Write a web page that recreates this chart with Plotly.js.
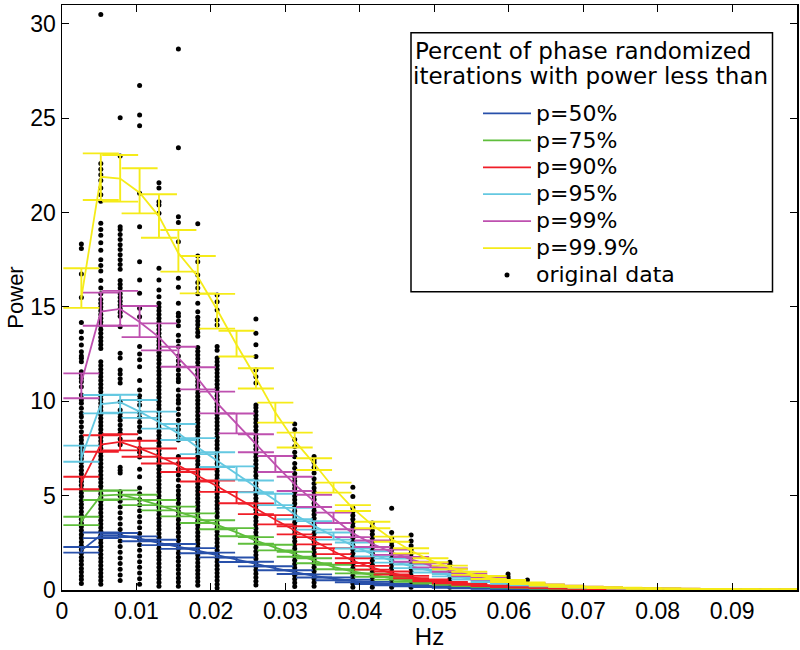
<!DOCTYPE html>
<html><head><meta charset="utf-8">
<script src="https://cdn.plot.ly/plotly-3.0.1.min.js"></script>
<style>html,body{margin:0;padding:0;background:#fff}#chart{width:800px;height:650px}</style>
</head><body><div id="chart"></div>
<script>
// frequency bins (Hz)
const freqs = [0.0026,0.00521,0.00781,0.01042,0.01302,0.01563,0.01823,0.02083,0.02344,0.02604,
 0.02865,0.03125,0.03385,0.03646,0.03906,0.04167,0.04427,0.04688,0.04948,0.05208,
 0.05469,0.05729,0.0599,0.0625,0.0651,0.06771,0.07031,0.07292,0.07552,0.07813,
 0.08073,0.08333,0.08594,0.08854,0.09115,0.09375,0.09635,0.09896];

const seriesNames = ['p=50%','p=75%','p=90%','p=95%','p=99%','p=99.9%'];
const seriesColors = ['rgb(40,80,170)','rgb(95,190,60)','rgb(240,30,40)','rgb(100,200,225)','rgb(190,80,175)','rgb(245,235,25)'];

const p50Mid = [2.1,2.9,2.9,2.72,2.5,2.3,2.08,1.85,1.6,1.38,1.15,0.95,0.75,0.6,0.48,0.38,0.3,0.23,0.18,0.14,0.11,0.085,0.065,0.05,0.04,0.032,0.026,0.021,0.017,0.014,0.012,0.01,0.009,0.008,0.007,0.006,0.005,0.005];
const p50Lo  = [1.98,2.75,2.8,2.58,2.38,2.18,1.95,1.73,1.48,1.25,1.05,0.85,0.66,0.52,0.41,0.32,0.25,0.19,0.15,0.115,0.09,0.07,0.053,0.041,0.032,0.026,0.021,0.017,0.014,0.011,0.009,0.008,0.007,0.006,0.005,0.005,0.004,0.004];
const p50Hi  = [2.28,3.05,3.02,2.84,2.66,2.44,2.22,1.98,1.72,1.5,1.26,1.05,0.83,0.67,0.54,0.43,0.34,0.27,0.21,0.165,0.13,0.1,0.077,0.06,0.048,0.038,0.031,0.025,0.02,0.017,0.014,0.012,0.011,0.01,0.009,0.008,0.007,0.006];

const p75Mid = [3.65,5.0,5.05,4.8,4.5,4.15,3.8,3.45,3.05,2.62,2.25,1.9,1.55,1.22,0.98,0.78,0.62,0.49,0.39,0.31,0.24,0.19,0.15,0.12,0.095,0.075,0.06,0.048,0.039,0.032,0.027,0.023,0.02,0.017,0.015,0.013,0.011,0.01];
const p75Lo  = [3.44,4.77,4.8,4.5,4.22,3.9,3.55,3.22,2.85,2.45,2.1,1.76,1.42,1.1,0.88,0.7,0.55,0.43,0.34,0.27,0.21,0.165,0.13,0.1,0.08,0.064,0.051,0.041,0.033,0.027,0.023,0.019,0.017,0.014,0.012,0.011,0.009,0.008];
const p75Hi  = [3.88,5.26,5.28,5.05,4.77,4.42,4.06,3.7,3.28,2.8,2.4,2.03,1.68,1.34,1.08,0.87,0.69,0.55,0.44,0.35,0.28,0.22,0.175,0.14,0.11,0.088,0.07,0.056,0.046,0.038,0.032,0.027,0.024,0.021,0.018,0.016,0.014,0.012];

const p90Mid = [5.7,7.7,7.85,7.5,7.1,6.6,6.05,5.5,4.9,4.3,3.72,3.15,2.6,2.05,1.55,1.18,0.9,0.68,0.51,0.39,0.3,0.23,0.18,0.14,0.11,0.085,0.068,0.054,0.044,0.036,0.03,0.025,0.021,0.018,0.016,0.014,0.012,0.011];
const p90Lo  = [5.34,7.33,7.4,7.06,6.7,6.25,5.75,5.2,4.6,4.02,3.48,2.95,2.42,1.9,1.43,1.08,0.82,0.62,0.46,0.35,0.27,0.205,0.16,0.125,0.097,0.075,0.06,0.047,0.038,0.031,0.026,0.022,0.018,0.016,0.014,0.012,0.01,0.009];
const p90Hi  = [6.0,8.2,8.25,7.91,7.5,6.98,6.4,5.8,5.2,4.58,3.97,3.38,2.8,2.22,1.68,1.28,0.98,0.75,0.56,0.43,0.33,0.255,0.2,0.155,0.123,0.095,0.076,0.061,0.05,0.041,0.034,0.028,0.024,0.021,0.018,0.016,0.014,0.012];

const p95Mid = [7.0,9.85,9.95,9.45,8.9,8.3,7.55,6.85,6.15,5.45,4.75,4.0,3.4,2.85,2.35,1.9,1.55,1.25,1.0,0.78,0.6,0.46,0.36,0.28,0.22,0.17,0.135,0.107,0.086,0.07,0.058,0.048,0.04,0.034,0.029,0.025,0.022,0.019];
const p95Lo  = [6.8,9.36,9.4,9.12,8.55,7.95,7.2,6.52,5.85,5.18,4.5,3.75,3.2,2.67,2.2,1.78,1.45,1.16,0.93,0.72,0.55,0.42,0.33,0.255,0.2,0.155,0.122,0.097,0.078,0.063,0.052,0.043,0.036,0.031,0.026,0.022,0.019,0.017];
const p95Hi  = [7.65,10.33,10.35,10.07,9.45,8.8,8.05,7.3,6.55,5.8,5.1,4.35,3.65,3.05,2.52,2.05,1.67,1.35,1.08,0.85,0.66,0.51,0.4,0.31,0.245,0.19,0.15,0.119,0.096,0.078,0.065,0.054,0.045,0.038,0.032,0.028,0.024,0.021];

const p99Mid = [11.0,14.75,14.9,14.2,13.4,12.3,11.2,9.9,8.8,7.75,6.65,5.6,4.7,3.8,3.0,2.45,2.0,1.62,1.3,1.05,0.8,0.6,0.46,0.35,0.27,0.21,0.165,0.13,0.105,0.085,0.07,0.058,0.048,0.04,0.034,0.029,0.025,0.022];
const p99Lo  = [10.16,14.0,14.0,13.4,12.7,11.83,10.63,9.36,8.3,7.3,6.25,5.25,4.4,3.55,2.8,2.28,1.86,1.5,1.2,0.97,0.74,0.55,0.42,0.32,0.245,0.19,0.15,0.118,0.095,0.077,0.063,0.052,0.043,0.036,0.031,0.026,0.022,0.02];
const p99Hi  = [11.48,15.76,15.85,15.05,14.13,12.89,11.8,10.51,9.35,8.25,7.1,6.0,5.05,4.1,3.22,2.62,2.14,1.75,1.41,1.14,0.87,0.65,0.5,0.38,0.295,0.23,0.18,0.142,0.115,0.093,0.077,0.064,0.053,0.044,0.037,0.032,0.027,0.024];

const p999Mid = [15.5,21.9,21.8,21.05,19.8,17.85,16.6,14.85,13.0,11.25,9.4,7.9,6.7,5.42,4.33,3.44,2.7,2.08,1.57,1.2,0.88,0.66,0.48,0.36,0.27,0.2,0.155,0.125,0.1,0.082,0.068,0.058,0.05,0.044,0.039,0.035,0.031,0.028];
const p999Lo  = [14.95,20.67,20.58,19.96,18.67,16.87,15.72,13.85,12.37,10.68,8.87,7.55,6.36,5.16,4.19,3.27,2.56,1.94,1.47,1.1,0.8,0.58,0.42,0.31,0.23,0.17,0.13,0.105,0.085,0.07,0.058,0.049,0.042,0.037,0.033,0.029,0.026,0.023];
const p999Hi  = [17.05,23.14,23.05,22.35,20.97,19.08,17.7,15.69,13.74,11.75,9.93,8.34,6.98,5.69,4.5,3.62,2.83,2.21,1.68,1.29,0.97,0.74,0.53,0.4,0.3,0.23,0.18,0.145,0.118,0.097,0.081,0.069,0.06,0.052,0.046,0.041,0.037,0.033];

// original data: frequency of each dot column, and the power values in each column
const dotFreqs = [0.0026,0.00521,0.00781,0.01042,0.01302,0.01563,0.01823,0.02083,0.02604,0.03125,0.03385,0.03906,0.04167,0.04427,0.04688,0.05208,0.0599,0.0625];
const dotsK1 = [0.35,0.55,0.74,0.95,1.14,1.35,1.55,1.74,1.95,2.15,2.34,2.55,2.75,2.94,3.15,3.35,3.54,3.75,3.95,4.14,4.35,4.55,4.74,4.95,5.15,5.34,5.55,5.75,5.94,6.15,6.35,6.54,6.75,6.95,7.14,7.35,7.55,7.74,7.95,8.12,8.39,8.65,8.92,9.18,9.36,9.63,9.89,10.07,10.33,10.77,11.04,11.22,11.39,11.57,12.1,12.28,12.4,12.63,12.98,13.34,13.69,14.17,15.5,16.75,18.1,18.33];
const dotsK2 = [0.3,0.5,0.7,0.9,1.1,1.3,1.5,1.7,1.9,2.1,2.3,2.5,2.7,2.9,3.1,3.3,3.5,3.7,3.9,4.1,4.3,4.5,4.7,4.9,5.1,5.3,5.5,5.7,5.9,6.1,6.3,6.5,6.7,6.9,7.1,7.3,7.5,7.7,7.9,8.1,8.3,8.5,8.7,8.9,9.1,9.3,9.5,9.7,9.9,10.1,10.3,10.5,10.7,10.9,11.1,11.3,11.5,11.7,11.9,12.1,12.8,13.0,13.2,13.4,13.6,13.8,14.0,14.2,14.4,14.6,14.8,15.0,15.2,15.4,15.7,16.0,16.4,16.9,17.2,17.5,18.0,18.4,18.8,19.1,19.43,20.6,20.95,21.3,21.7,22.0,22.3,22.6,30.5];
const dotsK3 = [0.5,0.8,1.1,1.4,1.7,2.0,2.3,2.6,2.9,3.2,3.5,3.8,4.1,4.4,4.7,5.0,5.2,6.2,6.35,6.5,7.7,8.0,8.3,8.5,8.75,9.0,9.17,9.35,9.54,9.98,10.97,11.2,11.45,11.66,12.3,12.55,13.95,14.5,14.7,14.9,15.1,15.3,15.5,15.7,16.0,16.2,16.4,17.0,17.25,17.5,17.77,18.04,18.3,18.57,18.84,19.1,19.25,23.0,25.03];
const dotsK4 = [0.3,0.6,0.9,1.2,1.5,1.8,2.1,2.4,2.7,3.0,3.3,3.6,3.9,4.2,4.5,4.8,5.1,5.4,6.0,6.4,7.05,7.3,7.5,8.0,8.4,8.65,8.9,9.15,9.4,9.8,10.07,10.3,10.6,11.1,11.83,12.2,12.5,12.9,14.48,14.93,15.72,16.43,17.4,19.25,21.02,24.6,25.17,26.73];
const dotsK5 = [0.2,0.4,0.6,0.8,1.0,1.2,1.4,1.6,1.8,2.0,2.2,2.4,2.6,2.8,3.0,3.2,3.4,3.6,3.8,4.0,4.2,4.4,4.6,4.8,5.0,5.2,5.4,5.6,5.8,6.0,6.2,6.4,6.6,6.8,7.0,7.2,7.4,7.6,7.8,8.0,8.2,8.4,8.6,8.8,9.0,9.2,9.4,9.6,9.8,10.0,10.2,10.4,10.6,10.8,11.0,11.2,11.4,11.6,11.8,12.0,12.2,12.4,12.6,12.8,13.0,13.2,13.4,13.6,13.8,14.0,14.2,14.4,14.6,14.8,15.0,15.2,15.54,15.9,16.43,17.05,19.96,20.4,20.58,21.3,21.58];
const dotsK6 = [0.2,0.42,0.64,0.86,1.08,1.3,1.52,1.74,1.96,2.18,2.4,2.62,2.84,3.06,3.28,3.5,3.72,3.94,4.16,4.38,4.6,4.82,5.04,5.26,5.5,5.83,6.1,6.4,6.7,7.07,7.95,8.2,8.5,8.75,9.0,9.3,9.6,9.9,10.07,10.3,10.6,11.04,11.2,11.4,11.66,11.9,12.15,12.4,12.9,13.2,13.5,14.0,14.25,14.5,14.66,15.19,16.04,16.52,18.46,19.47,19.78,23.44,28.67];
const dotsK7 = [0.25,0.45,0.65,0.85,1.05,1.25,1.45,1.65,1.85,2.05,2.25,2.45,2.65,2.85,3.05,3.25,3.45,3.65,3.85,4.05,4.25,4.45,4.65,4.85,5.05,5.25,5.45,5.65,5.85,6.05,6.25,6.45,6.65,6.85,7.05,7.25,7.45,7.65,7.85,8.05,8.25,8.45,8.65,8.85,9.05,9.25,9.45,9.65,9.85,10.05,10.25,10.45,10.65,10.85,11.05,11.25,11.45,11.65,11.85,12.05,12.25,12.45,12.65,12.85,13.45,13.65,13.85,14.05,14.25,14.45,14.75,15.19,15.7,16.0,16.3,16.69,17.4,17.7,19.41];
const dotsK8 = [0.1,0.3,0.5,0.7,0.9,1.1,1.3,1.5,1.7,1.9,2.1,2.3,2.5,2.7,2.9,3.1,3.3,3.5,3.7,3.9,4.1,4.3,4.5,4.7,4.9,5.1,5.3,5.5,5.7,5.9,6.1,6.3,6.5,6.7,6.9,7.1,7.3,7.5,7.7,7.9,8.1,8.3,8.5,8.7,8.9,9.1,9.3,9.5,9.7,9.9,10.1,10.3,10.5,10.7,10.9,11.1,11.3,11.5,11.7,11.9,12.1,12.3,12.7,12.9,14.04,14.31,14.84,15.28,15.63];
const dotsK10 = [0.26,0.46,0.66,0.86,1.06,1.26,1.46,1.66,1.86,2.06,2.26,2.46,2.66,2.86,3.06,3.26,3.46,3.66,3.86,4.06,4.26,4.46,4.66,4.86,5.06,5.26,5.46,5.66,5.86,6.06,6.26,6.46,6.66,6.86,7.06,7.26,7.46,7.66,7.86,8.06,8.26,8.46,8.66,8.86,9.06,9.26,9.46,9.66,9.8,10.97,11.3,11.66,12.37,13.0,13.6,14.36];
const dotsK12 = [0.18,0.38,0.58,0.78,0.98,1.18,1.38,1.58,1.78,1.98,2.18,2.38,2.58,2.78,2.98,3.18,3.38,3.58,3.78,3.98,4.18,4.38,4.58,4.78,4.98,5.18,5.38,5.58,5.78,5.98,6.18,6.45,6.7,7.06,7.3,7.6,7.98,8.5,8.8];
const dotsK13 = [0.2,0.4,0.6,0.8,1.0,1.2,1.4,1.6,1.8,2.0,2.2,2.4,2.6,2.8,3.0,3.2,3.4,3.6,3.8,4.0,4.2,4.4,4.6,4.8,5.0,5.2,5.4,5.65,5.9,6.2,6.5,6.75,6.9,7.07];
const dotsK15 = [0.15,0.35,0.55,0.75,0.95,1.15,1.35,1.55,1.75,1.95,2.15,2.35,2.55,2.75,2.95,3.15,3.35,3.55,3.75,3.95,4.15,4.34,4.95,5.44];
const dotsK16 = [0.15,0.35,0.55,0.75,0.95,1.15,1.35,1.55,1.75,1.95,2.15,2.35,2.55,2.75,2.95,3.15,3.35,3.55];
const dotsK17 = [0.15,0.35,0.55,0.75,0.95,1.15,1.35,1.55,1.75,1.95,2.15,2.35,2.55,2.75,3.05,4.33];
const dotsK18 = [0.15,0.35,0.55,0.75,0.95,1.15,1.35,1.55,1.75,1.95,2.15,2.35,2.6,2.91];
const dotsK20 = [0.15,0.35,0.55,0.75,0.95,1.15,1.35,1.47];
const dotsK23 = [0.2,0.4,0.6,0.7,0.85];
const dotsK24 = [0.2,0.35,0.53];
const dotColumns = [dotsK1,dotsK2,dotsK3,dotsK4,dotsK5,dotsK6,dotsK7,dotsK8,dotsK10,dotsK12,dotsK13,dotsK15,dotsK16,dotsK17,dotsK18,dotsK20,dotsK23,dotsK24];

const xTickVals = [0,0.01,0.02,0.03,0.04,0.05,0.06,0.07,0.08,0.09];
const xTickText = ['0','0.01','0.02','0.03','0.04','0.05','0.06','0.07','0.08','0.09'];
const yTickVals = [0,5,10,15,20,25,30];

const FONT = '"DejaVu Sans", sans-serif';
const AXFONT = '"Liberation Sans", Arial, sans-serif';
const mids = [p50Mid,p75Mid,p90Mid,p95Mid,p99Mid,p999Mid];
const los = [p50Lo,p75Lo,p90Lo,p95Lo,p99Lo,p999Lo];
const his = [p50Hi,p75Hi,p90Hi,p95Hi,p99Hi,p999Hi];

const dotX = [], dotY = [];
dotFreqs.forEach((f,i) => dotColumns[i].forEach(v => { dotX.push(f); dotY.push(v); }));

const traces = [{
  type:'scatter', mode:'markers', x:dotX, y:dotY, name:'<span style="font-size:22px">original data</span>',
  marker:{color:'black', size:5}, legendrank:7, hoverinfo:'skip'
}];
mids.forEach((m,i) => {
  traces.push({
    type:'scatter', mode:'lines', x:freqs, y:m,
    name:'<span style="font-size:22px">'+seriesNames[i]+'</span>',
    line:{color:seriesColors[i], width:1.8},
    error_y:{type:'data', symmetric:false,
      array:his[i].map((h,j)=>h-m[j]), arrayminus:m.map((v,j)=>v-los[i][j]),
      color:seriesColors[i], thickness:1.9, width:18},
    legendrank:i+1
  });
});

const px = v => (v-62)/735, py = v => (590-v)/585;

const layout = {
  width:800, height:650,
  margin:{l:62, r:3, t:5, b:60},
  paper_bgcolor:'white', plot_bgcolor:'white',
  font:{family:FONT, color:'black'},
  showlegend:true,
  xaxis:{range:[0,0.0987], tickvals:xTickVals, ticktext:xTickText, ticks:'inside', ticklen:7,
    tickcolor:'black', showline:true, linecolor:'black', linewidth:1.5, mirror:'ticks',
    showgrid:false, zeroline:false, tickfont:{family:AXFONT, size:23, color:'black'},
    title:{text:'Hz', font:{family:AXFONT, size:24, color:'black'}, standoff:4}},
  yaxis:{range:[0,31], tickvals:yTickVals, ticks:'inside', ticklen:7,
    tickcolor:'black', showline:true, linecolor:'black', linewidth:1.5, mirror:'ticks',
    showgrid:false, zeroline:false, tickfont:{family:AXFONT, size:23, color:'black'},
    title:{text:'Power', font:{family:AXFONT, size:22, color:'black'}, standoff:0}},
  legend:{x:px(478), y:py(95), xanchor:'left', yanchor:'top', bgcolor:'rgba(0,0,0,0)',
    borderwidth:0, font:{family:FONT, size:18.4, color:'black'}, itemwidth:48, tracegroupgap:0},
  shapes:[{type:'rect', xref:'paper', yref:'paper', x0:px(411), x1:px(772.5), y0:py(291.7), y1:py(32.7),
    line:{color:'black', width:1.5}, fillcolor:'white', layer:'above'}],
  annotations:[
    {xref:'paper', yref:'paper', x:px(413), y:py(51), xanchor:'left', yanchor:'middle', showarrow:false,
     text:'Percent of phase randomized', font:{family:FONT, size:23, color:'black'}},
    {xref:'paper', yref:'paper', x:px(411), y:py(76), xanchor:'left', yanchor:'middle', showarrow:false,
     text:'iterations with power less than', font:{family:FONT, size:23, color:'black'}}
  ]
};

Plotly.newPlot('chart', traces, layout, {displayModeBar:false, staticPlot:true});
</script>
</body></html>
